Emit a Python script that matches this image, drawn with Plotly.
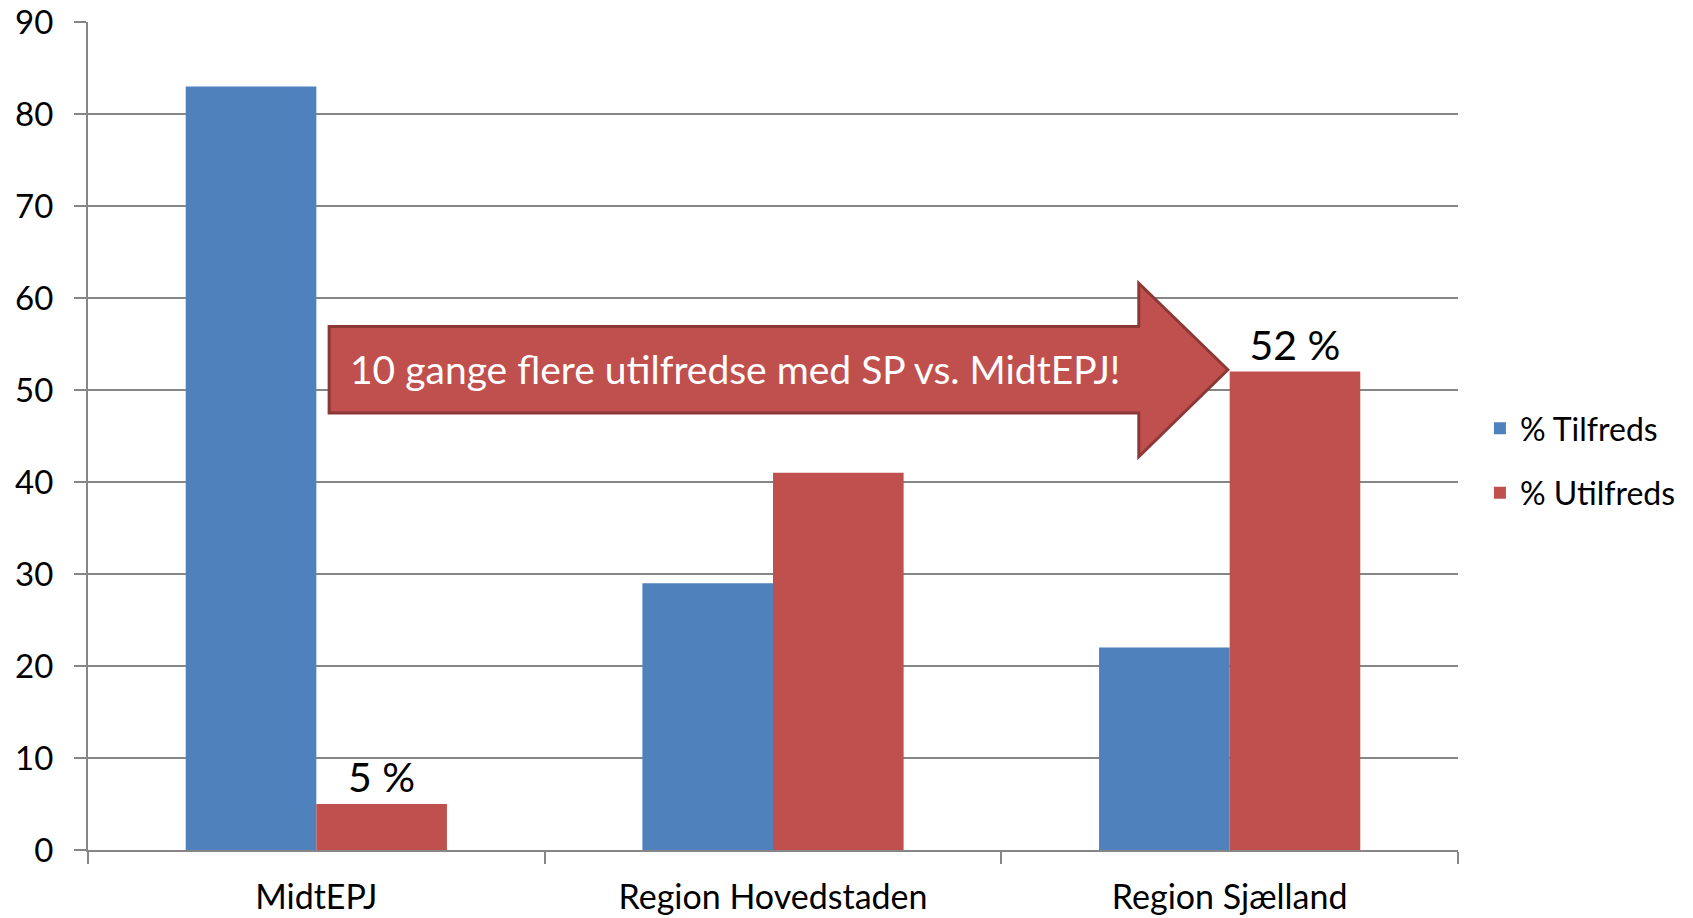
import plotly.graph_objects as go

categories = ["MidtEPJ", "Region Hovedstaden", "Region Sjælland"]
tilfreds = [83, 29, 22]
utilfreds = [5, 41, 52]
utilfreds_labels = ["5 %", "", "52 %"]
y_ticks = [0, 10, 20, 30, 40, 50, 60, 70, 80, 90]
arrow_text = "10 gange flere utilfredse med SP vs. MidtEPJ!"

BLUE = "#4F81BD"
RED = "#C0504D"
GRID = "#868686"
FONT = "Lato, 'Open Sans', sans-serif"

fig = go.Figure()
fig.add_trace(go.Bar(
    x=categories, y=tilfreds, name="% Tilfreds",
    marker=dict(color=BLUE, line=dict(width=0)),
    legendgroup="a",
))
fig.add_trace(go.Bar(
    x=categories, y=utilfreds, name="% Utilfreds",
    marker=dict(color=RED, line=dict(width=0)),
    text=utilfreds_labels, textposition="outside",
    textfont=dict(size=41, color="black", family=FONT),
    cliponaxis=False,
    legendgroup="b",
))

# arrow callout (paper x, data y)
arrow = [(0.176, 56.9), (0.767, 56.9), (0.767, 61.6), (0.832, 52.2),
         (0.767, 42.75), (0.767, 47.5), (0.176, 47.5)]
path = "M " + " L ".join(f"{x},{y}" for x, y in arrow) + " Z"
fig.add_shape(type="path", path=path, xref="paper", yref="y",
              fillcolor=RED, line=dict(color="#8C3836", width=3), layer="above")
fig.add_annotation(x=0.19, y=52.3, xref="paper", yref="y", text=arrow_text,
                   showarrow=False, xanchor="left", yanchor="middle",
                   font=dict(size=39, color="white", family=FONT))

fig.update_layout(
    width=1693, height=918,
    margin=dict(l=88, r=235, t=22, b=68, autoexpand=False),
    paper_bgcolor="white", plot_bgcolor="white",
    barmode="group", bargap=0.428, bargroupgap=0,
    font=dict(family=FONT, size=32, color="black"),
    legend=dict(x=1.016, y=0.47, xanchor="left", yanchor="middle",
                font=dict(size=32), tracegroupgap=20, itemwidth=30),
    showlegend=True,
)
fig.update_xaxes(
    showline=True, linecolor=GRID, linewidth=2, automargin=False,
    ticks="outside", tickson="boundaries", ticklen=12, tickcolor=GRID, tickwidth=2,
    showgrid=False, range=[-0.5, 2.5], tickfont=dict(size=34), ticklabelstandoff=16,
    ticklabeloverflow="allow",
)
fig.update_yaxes(
    range=[0, 90], tickvals=y_ticks, showgrid=True, gridcolor=GRID, gridwidth=2,
    showline=True, linecolor=GRID, linewidth=2, automargin=False,
    ticks="outside", ticklen=12, tickcolor=GRID, tickwidth=2,
    zeroline=False, tickfont=dict(size=33), ticklabelstandoff=14,
    ticklabeloverflow="allow",
)

# drop the default 8px body margin so the figure fills the window exactly
fig.write_html("out.html", config={"displayModeBar": False},
               post_script="document.body.style.margin='0';")
